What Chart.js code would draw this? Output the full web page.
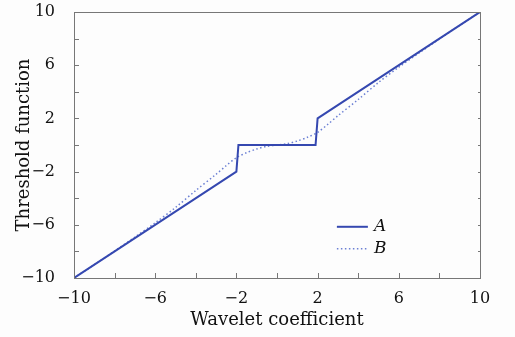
<!DOCTYPE html>
<html>
<head>
<meta charset="utf-8">
<script src="https://cdn.jsdelivr.net/npm/chart.js@4"></script>
<style>
html,body{margin:0;padding:0;background:#fdfdfd;}
#wrap{width:515px;height:337px;}
</style>
</head>
<body>
<div id="wrap"><canvas id="chart"></canvas></div>
<script>
// line A (hard threshold)
const xA = [-10, -2, -1.9, 1.9, 2, 10];
const yA = [-10, -2, 0, 0, 2, 10];
// line B (dotted, smooth)
const xB = [-10, -9, -8, -7, -6, -5, -4, -3, -2.5, -2, -1.5, -1, -0.5, 0, 0.5, 1, 1.5, 2, 2.5, 3, 4, 5, 6, 7, 8, 9, 10];
const yB = [-10, -9, -7.97, -6.92, -5.85, -4.7, -3.42, -2.2, -1.55, -0.95, -0.58, -0.3, -0.1, 0, 0.1, 0.3, 0.58, 0.95, 1.55, 2.2, 3.42, 4.7, 5.85, 6.92, 7.97, 9, 10];
const seriesNames = ["A", "B"];
const tickLabels = [-10, -6, -2, 2, 6, 10];

const colA = "#3548b0";
const colB = "#6c80d4";
const serif = "'DejaVu Serif', serif";

function fmt(v){
  if(!tickLabels.includes(v)) return "";
  return v < 0 ? "\u2212" + Math.abs(v) : String(v);
}

// inward ticks, frame and legend
const frame = {
  id: "frame",
  afterDatasetsDraw(chart){
    const {ctx, chartArea:a, scales} = chart;
    ctx.save();
    ctx.strokeStyle = "#777";
    ctx.lineWidth = 1;
    ctx.strokeRect(a.left + 0.5, a.top + 0.5, a.right - a.left, a.bottom - a.top);
    ctx.beginPath();
    scales.x.ticks.forEach(t => {
      const px = Math.round(scales.x.getPixelForValue(t.value)) + 0.5;
      ctx.moveTo(px, a.bottom);
      ctx.lineTo(px, a.bottom - 5);
    });
    scales.y.ticks.forEach(t => {
      const py = Math.round(scales.y.getPixelForValue(t.value)) + 0.5;
      ctx.moveTo(a.left, py);
      ctx.lineTo(a.left + 5, py);
      ctx.moveTo(a.right, py);
      ctx.lineTo(a.right - 2, py);
    });
    ctx.stroke();

    // legend
    const lx = scales.x.getPixelForValue(2.95);
    const ly = scales.y.getPixelForValue(-6.15);
    chart.data.datasets.forEach((ds, i) => {
      const y = ly + i * 22;
      ctx.beginPath();
      ctx.strokeStyle = ds.borderColor;
      ctx.lineWidth = ds.borderWidth;
      ctx.setLineDash(ds.borderDash || []);
      ctx.moveTo(lx, y);
      ctx.lineTo(lx + 31, y);
      ctx.stroke();
      ctx.setLineDash([]);
      ctx.fillStyle = "#111";
      ctx.font = "italic 17px " + serif;
      ctx.textBaseline = "middle";
      ctx.fillText(ds.label, lx + 37, y);
    });
    ctx.restore();
  }
};

new Chart(document.getElementById("chart"), {
  type: "scatter",
  data: {
    datasets: [{
      label: seriesNames[0],
      data: xA.map((x, i) => ({x: x, y: yA[i]})),
      showLine: true,
      borderColor: colA,
      borderWidth: 2,
      pointRadius: 0
    }, {
      label: seriesNames[1],
      data: xB.map((x, i) => ({x: x, y: yB[i]})),
      showLine: true,
      borderColor: colB,
      borderWidth: 1.5,
      borderDash: [1.5, 2.5],
      pointRadius: 0,
      tension: 0.3
    }]
  },
  options: {
    responsive: true,
    maintainAspectRatio: false,
    animation: false,
    layout: {padding: {top: 12, right: 35, left: 0, bottom: 0}},
    plugins: {legend: {display: false}, tooltip: {enabled: false}},
    scales: {
      x: {
        type: "linear", min: -10, max: 10,
        grid: {display: false},
        border: {display: false},
        ticks: {stepSize: 2, autoSkip: false, maxRotation: 0, padding: 3, color: "#111",
          font: {family: serif, size: 16}, callback: v => fmt(v)},
        title: {display: true, text: "Wavelet coefficient", color: "#111",
          font: {family: serif, size: 18}, padding: {top: 0, bottom: 6}},
        afterFit: s => { s.height = 59; s.paddingLeft = 0; s.paddingRight = 0; }
      },
      y: {
        type: "linear", min: -10, max: 10,
        grid: {display: false},
        border: {display: false},
        ticks: {stepSize: 2, autoSkip: false, padding: 11, color: "#111",
          font: {family: serif, size: 16}, callback: v => fmt(v)},
        title: {display: true, text: "Threshold function", color: "#111",
          font: {family: serif, size: 18}, padding: {top: 14, bottom: 0}},
        afterFit: s => { s.width = 74; s.paddingTop = 0; s.paddingBottom = 0; }
      }
    }
  },
  plugins: [frame]
});
</script>
</body>
</html>
